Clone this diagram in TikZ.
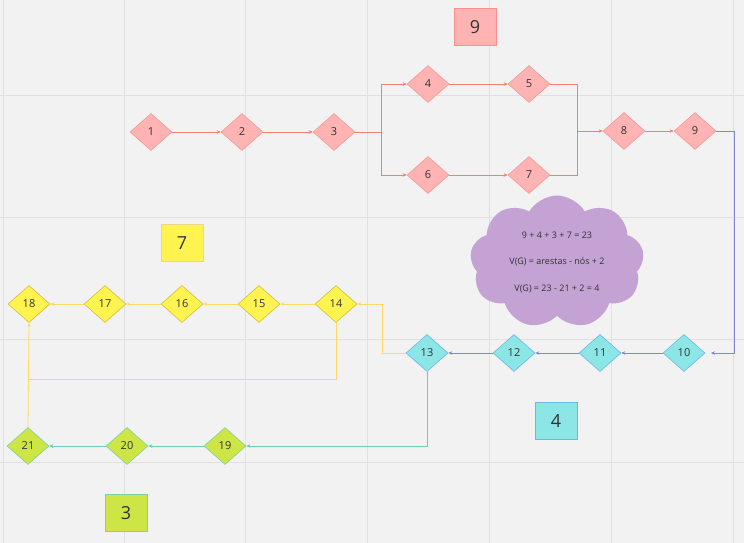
\documentclass[tikz,border=0pt]{standalone}
\usepackage{fontspec}
\setmainfont{Open Sans}
\usetikzlibrary{shapes.geometric,shapes.symbols,arrows.meta}
\definecolor{bgc}{HTML}{F2F2F2}
\definecolor{gridc}{HTML}{E0E0E0}
\definecolor{pinkf}{HTML}{FFB3B3}
\definecolor{pinkd}{HTML}{F59A94}
\definecolor{redl}{HTML}{F58070}
\definecolor{bluel}{HTML}{8585D6}
\definecolor{cyanf}{HTML}{8CE6E6}
\definecolor{cyand}{HTML}{6AB8E8}
\definecolor{yelf}{HTML}{FFF44F}
\definecolor{yeld}{HTML}{D2BE3C}
\definecolor{yell}{HTML}{FFD966}
\definecolor{limef}{HTML}{CDE645}
\definecolor{limed}{HTML}{7FD0A8}
\definecolor{teall}{HTML}{6CCDB5}
\definecolor{cloudf}{HTML}{C4A2D4}
\definecolor{txt}{HTML}{333333}
\tikzset{
  dia/.style={diamond, aspect=1.13, minimum width=42pt, minimum height=37pt, inner sep=0pt, font=\fontsize{11}{13}\selectfont, text=txt, line width=0.6pt},
  pinkdia/.style={dia, fill=pinkf, draw=pinkd},
  cyandia/.style={dia, fill=cyanf, draw=cyand},
  yeldia/.style={dia, fill=yelf, draw=yeld},
  limedia/.style={dia, fill=limef, draw=limed},
  lbl/.style={minimum width=42pt, minimum height=37pt, inner sep=0pt, font=\fontsize{18}{20}\selectfont, text=txt, line width=0.8pt},
  conn/.style={line width=0.8pt, -{Stealth[length=4pt,width=3.5pt]}},
  plain/.style={line width=0.8pt},
}
\begin{document}
\begin{tikzpicture}[x=1pt,y=-1pt]
\fill[bgc] (0,0) rectangle (744,543);
\useasboundingbox (0,0) rectangle (744,543);
\foreach \gx in {3,124,245,367,489,611,733} \draw[gridc, line width=0.8pt] (\gx,0) -- (\gx,543);
\foreach \gy in {95,217,339,462} \draw[gridc, line width=0.8pt] (0,\gy) -- (744,\gy);

% labels
\node[lbl, fill=pinkf, draw=pinkf!80!red] (L9) at (475,27) {9};
\node[lbl, fill=yelf, draw=yeld!60] (L7) at (182,243) {7};
\node[lbl, fill=cyanf, draw=cyand] (L4) at (556,421) {4};
\node[lbl, fill=limef, draw=limed] (L3) at (126,513) {3};

% cloud
\node[cloud, cloud puffs=9, cloud puff arc=120, aspect=1.3, fill=cloudf, draw=none, minimum width=174pt, minimum height=133pt, inner sep=0pt, font=\fontsize{9}{10.5}\selectfont, text=txt, align=center] (cl) at (557,262) {9 + 4 + 3 + 7 = 23\\[16pt]V(G) = arestas - nós + 2\\[16pt]V(G) = 23 - 21 + 2 = 4};

% diamonds
\node[pinkdia] (d1) at (151,132) {1};
\node[pinkdia] (d2) at (242,132) {2};
\node[pinkdia] (d3) at (334,132) {3};
\node[pinkdia] (d4) at (428,84) {4};
\node[pinkdia] (d5) at (529,84) {5};
\node[pinkdia] (d6) at (428,175) {6};
\node[pinkdia] (d7) at (529,175) {7};
\node[pinkdia] (d8) at (624,131) {8};
\node[pinkdia] (d9) at (695,131) {9};
\node[cyandia] (d10) at (684,353) {10};
\node[cyandia] (d11) at (600,353) {11};
\node[cyandia] (d12) at (514,353) {12};
\node[cyandia] (d13) at (427,353) {13};
\node[yeldia] (d14) at (336,304) {14};
\node[yeldia] (d15) at (259,304) {15};
\node[yeldia] (d16) at (182,304) {16};
\node[yeldia] (d17) at (105,304) {17};
\node[yeldia] (d18) at (29,304) {18};
\node[limedia] (d19) at (225,446) {19};
\node[limedia] (d20) at (127,446) {20};
\node[limedia] (d21) at (28,446) {21};

\coordinate (j1) at (381,132);
\coordinate (j2) at (577,131);
\coordinate (c9) at (734,131);
\coordinate (c10) at (711,353);
\coordinate (c13) at (382,353);
\coordinate (c14) at (29,379);

% red
\draw[conn, redl] (d1) -- (d2);
\draw[conn, redl] (d2) -- (d3);
\draw[plain, redl] (d3.east) -- (j1);
\draw[conn, redl] (j1) |- (d4.west);
\draw[conn, redl] (j1) |- (d6.west);
\draw[conn, redl] (d4) -- (d5);
\draw[conn, redl] (d6) -- (d7);
\draw[plain, redl] (d5.east) -| (j2);
\draw[plain, redl] (d7.east) -| (j2);
\draw[conn, redl] (j2) -- (d8.west);
\draw[conn, redl] (d8) -- (d9);
% blue
\draw[conn, bluel] (d9.east) -- (c9) |- (c10);
\draw[conn, bluel] (d10) -- (d11);
\draw[conn, bluel] (d11) -- (d12);
\draw[conn, bluel] (d12) -- (d13);
% yellow
\draw[conn, yell] (d13.west) -- (c13) |- (d14.east);
\draw[conn, yell] (d14) -- (d15);
\draw[conn, yell] (d15) -- (d16);
\draw[conn, yell] (d16) -- (d17);
\draw[conn, yell] (d17) -- (d18);
\draw[plain, yell] (d14.south) |- (c14);
\draw[conn, yell] (d21.north) -- (d18.south);
% teal
\draw[conn, teall] (d13.south) |- (d19.east);
\draw[conn, teall] (d19) -- (d20);
\draw[conn, teall] (d20) -- (d21);
\end{tikzpicture}
\end{document}
